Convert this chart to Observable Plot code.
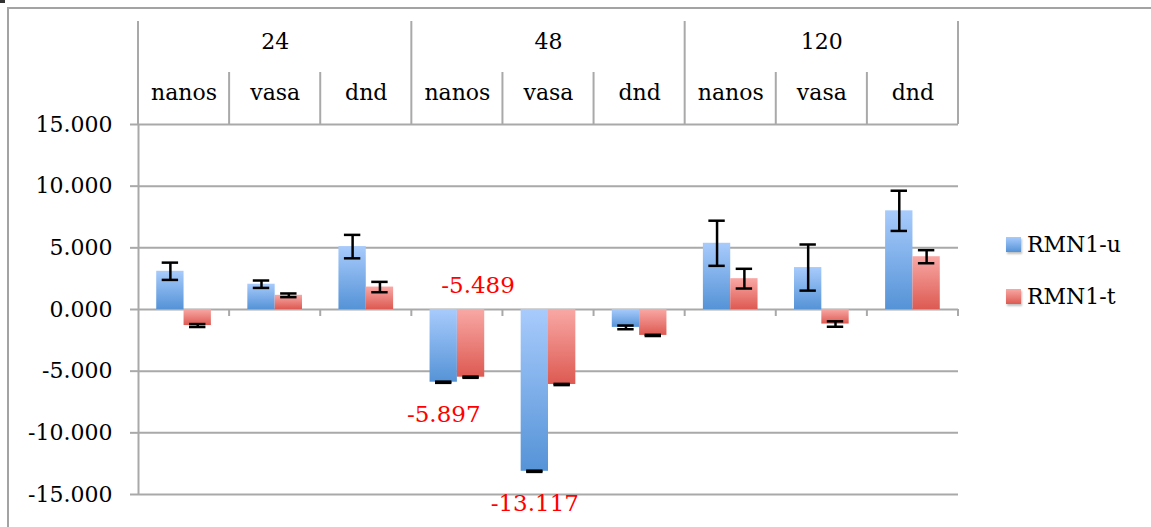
<!DOCTYPE html>
<html>
<head>
<meta charset="utf-8">
<script src="https://cdn.jsdelivr.net/npm/d3@7"></script>
<script src="https://cdn.jsdelivr.net/npm/@observablehq/plot@0.6"></script>
<style>
html, body { margin: 0; padding: 0; background: #fff; overflow: hidden; }
#wrap { position: relative; width: 1151px; height: 527px; font-family: "DejaVu Serif", serif; }
#frame { position: absolute; left: 7px; top: 7px; width: 1300px; height: 700px;
  border-left: 2px solid #a3a3a3; border-top: 2px solid #a3a3a3; }
#crumb { position: absolute; left: 0; top: 0; width: 5px; height: 3px; background: #333; }
#chart { position: absolute; left: 0; top: 0; }
.lg { position: absolute; left: 1006px; height: 30px; display: flex; align-items: center;
  font-size: 22px; color: #000; white-space: nowrap; }
.sw { width: 15px; height: 15px; margin-right: 6px; box-shadow: 1px 2px 2px rgba(0,0,0,0.25); }
</style>
</head>
<body>
<div id="wrap">
  <div id="frame"></div>
  <div id="crumb"></div>
  <div id="chart"></div>
  <div class="lg" style="top:229px"><div class="sw" style="background:linear-gradient(#a8cbfc,#5593d7)"></div><span id="lg0"></span></div>
  <div class="lg" style="top:281px"><div class="sw" style="background:linear-gradient(#f9a8a5,#dd5a52)"></div><span id="lg1"></span></div>
</div>
<script>
// ---- data ----
const groups = ["24", "48", "120"];
const genes = ["nanos", "vasa", "dnd", "nanos", "vasa", "dnd", "nanos", "vasa", "dnd"];
const seriesNames = ["RMN1-u", "RMN1-t"];
const valuesU = [3.1, 2.05, 5.1, -5.897, -13.117, -1.45, 5.37, 3.4, 8.0];
const errorsU = [0.7, 0.3, 0.95, 0.05, 0.05, 0.15, 1.83, 1.87, 1.63];
const valuesT = [-1.3, 1.15, 1.82, -5.489, -6.08, -2.1, 2.5, -1.18, 4.28];
const errorsT = [0.12, 0.15, 0.42, 0.05, 0.05, 0.05, 0.8, 0.22, 0.53];
const yTicks = [-15, -10, -5, 0, 5, 10, 15];
const labelSeries = ["RMN1-u", "RMN1-t", "RMN1-u"];
const labelIndex = [3, 3, 4];
const labelValues = [-5.897, -5.489, -13.117];

// ---- layout constants (style) ----
const BW = 0.3;      // bar width in category units
const CAP = 0.09;    // error cap half width in category units
const FONT = "DejaVu Serif";
const GRID = "#a9a9a9";
const perGroup = genes.length / groups.length;

document.getElementById("lg0").textContent = seriesNames[0];
document.getElementById("lg1").textContent = seriesNames[1];

const rows = genes.map((gene, i) => ({
  i, gene, group: groups[Math.floor(i / perGroup)],
  u: valuesU[i], ue: errorsU[i], t: valuesT[i], te: errorsT[i]
}));
const cu = d => d.i + 0.5 - BW / 2;
const ct = d => d.i + 0.5 + BW / 2;

const capsU = rows.flatMap(d => [d.u - d.ue, d.u + d.ue].map(y => ({ c: cu(d), y })));
const capsT = rows.flatMap(d => [d.t - d.te, d.t + d.te].map(y => ({ c: ct(d), y })));

const groupRows = groups.map((g, k) => ({ g, c: k * perGroup + perGroup / 2 }));
const labels = labelValues.map((v, k) => ({ s: labelSeries[k], i: labelIndex[k], value: v }));

function headerMark(index, scales, values, dimensions) {
  const x = scales.x, y = scales.y;
  const top = dimensions.marginTop;
  const g = d3.create("svg:g").attr("stroke", GRID).attr("stroke-width", 2);
  for (let k = 0; k <= genes.length; k++) {
    const isGroup = k % perGroup === 0;
    g.append("line").attr("x1", x(k)).attr("x2", x(k))
      .attr("y1", top - (isGroup ? 103 : 52)).attr("y2", top);
  }
  const y0 = y(0);
  for (let k = 1; k <= genes.length; k++) {
    g.append("line").attr("x1", x(k)).attr("x2", x(k)).attr("y1", y0).attr("y2", y0 + 7);
  }
  return g.node();
}

const svg = Plot.plot({
  width: 1151,
  height: 527,
  marginLeft: 138,
  marginRight: 193,
  marginTop: 124,
  marginBottom: 33,
  style: { fontFamily: FONT, fontSize: "22px", color: "black", background: "transparent", overflow: "visible" },
  x: { type: "linear", domain: [0, genes.length], axis: null },
  y: { domain: [-15, 15] },
  marks: [
    Plot.gridY(yTicks, { stroke: GRID, strokeOpacity: 1, strokeWidth: 2 }),
    Plot.ruleX([0], { stroke: GRID, strokeWidth: 2 }),
    headerMark,
    Plot.rectY(rows, { x1: d => d.i + 0.5 - BW, x2: d => d.i + 0.5, y1: 0, y2: d => d.u,
      fill: "url(#gU)", ariaLabel: "barsU" }),
    Plot.rectY(rows, { x1: d => d.i + 0.5, x2: d => d.i + 0.5 + BW, y1: 0, y2: d => d.t,
      fill: "url(#gT)", ariaLabel: "barsT" }),
    Plot.ruleX(rows, { x: cu, y1: d => d.u - d.ue, y2: d => d.u + d.ue, stroke: "black", strokeWidth: 2.5 }),
    Plot.ruleX(rows, { x: ct, y1: d => d.t - d.te, y2: d => d.t + d.te, stroke: "black", strokeWidth: 2.5 }),
    Plot.ruleY(capsU, { y: "y", x1: d => d.c - CAP, x2: d => d.c + CAP, stroke: "black", strokeWidth: 2.5 }),
    Plot.ruleY(capsT, { y: "y", x1: d => d.c - CAP, x2: d => d.c + CAP, stroke: "black", strokeWidth: 2.5 }),
    Plot.axisY({ ticks: yTicks, tickSize: 8, tickPadding: 18, tickFormat: d => d.toFixed(3),
      stroke: GRID, strokeWidth: 2, fill: "black", fontSize: 22, fontFamily: FONT, label: null }),
    Plot.text(groupRows, { x: "c", text: "g", frameAnchor: "top", lineAnchor: "middle", dy: -83,
      fontSize: 22, fontFamily: FONT, fill: "black" }),
    Plot.text(rows, { x: d => d.i + 0.5, text: "gene", frameAnchor: "top", lineAnchor: "middle", dy: -32,
      fontSize: 22, fontFamily: FONT, fill: "black" }),
    Plot.text(labels.filter(d => d.s === seriesNames[0]), {
      x: d => d.i + 0.5 - BW / 2, y: "value", dy: 32, text: d => d.value.toFixed(3),
      fill: "#ff0000", fontSize: 23, fontFamily: FONT }),
    Plot.text(labels.filter(d => d.s === seriesNames[1]), {
      x: d => d.i + 0.5 + BW / 2, y: d => 0, dy: -24, dx: 7, text: d => d.value.toFixed(3),
      fill: "#ff0000", fontSize: 23, fontFamily: FONT })
  ]
});

const s = d3.select(svg);
const defs = s.insert("defs", ":first-child");
const mk = (id, a, b) => {
  const lg = defs.append("linearGradient").attr("id", id).attr("x1", 0).attr("y1", 0).attr("x2", 0).attr("y2", 1);
  lg.append("stop").attr("offset", "0%").attr("stop-color", a);
  lg.append("stop").attr("offset", "100%").attr("stop-color", b);
};
mk("gU", "#a8cbfc", "#5593d7");
mk("gT", "#f9a8a5", "#dd5a52");
const f = defs.append("filter").attr("id", "shadow").attr("x", "-30%").attr("y", "-30%").attr("width", "160%").attr("height", "160%");
f.append("feDropShadow").attr("dx", 2).attr("dy", 3).attr("stdDeviation", 2.5)
  .attr("flood-color", "#000").attr("flood-opacity", 0.35);
s.selectAll('g[aria-label="barsU"], g[aria-label="barsT"]').attr("filter", "url(#shadow)");

document.getElementById("chart").appendChild(svg);
</script>
</body>
</html>
